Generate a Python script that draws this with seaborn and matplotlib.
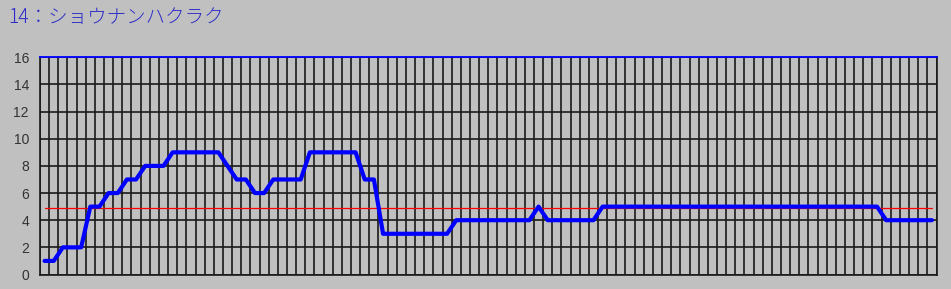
import matplotlib
matplotlib.use("Agg")
import matplotlib.pyplot as plt
import seaborn as sns
import pandas as pd
import numpy as np

# ---- data ----
title = "14：ショウナンハクラク"
values = [1, 1, 2, 2, 2, 5, 5, 6, 6, 7, 7, 8, 8, 8,
          9, 9, 9, 9, 9, 9, 8, 7, 7, 6, 6, 7, 7, 7, 7,
          9, 9, 9, 9, 9, 9, 7, 7,
          3, 3, 3, 3, 3, 3, 3, 3,
          4, 4, 4, 4, 4, 4, 4, 4, 4, 5, 4, 4, 4, 4, 4, 4,
          5, 5, 5, 5, 5, 5, 5, 5, 5, 5, 5, 5, 5, 5, 5, 5,
          5, 5, 5, 5, 5, 5, 5, 5, 5, 5, 5, 5, 5, 5, 5,
          4, 4, 4, 4, 4, 4]
reference_value = 4.9
y_ticks = [0, 2, 4, 6, 8, 10, 12, 14, 16]

n = len(values)
positions = [i + 0.5 for i in range(n)]
df = pd.DataFrame({"x": positions, "y": values})
ref_df = pd.DataFrame({"x": [positions[0], positions[-1]],
                       "y": [reference_value, reference_value]})

bg = "#C0C0C0"
sns.set_style("white")
plt.rcParams["font.family"] = ["Noto Sans CJK JP", "DejaVu Sans"]

fig = plt.figure(figsize=(9.51, 2.89), dpi=100, facecolor=bg)
W, H = 951, 289
left, right, top, bottom = 40, 936.5, 57.3, 274.5
ax = fig.add_axes([left / W, (H - bottom) / H, (right - left) / W, (bottom - top) / H])
ax.set_facecolor(bg)

ax.set_xlim(0, n)
ax.set_ylim(0, 16)
ax.set_axisbelow(True)

# grid
ax.set_xticks(range(0, n + 1))
ax.set_yticks(y_ticks)
ax.grid(True, color="#1a1a1a", linewidth=1.2)
ax.tick_params(axis="x", length=0, labelbottom=False)
ax.tick_params(axis="y", length=5, width=1.2, color="#1a1a1a", pad=3,
               labelsize=10, labelcolor="#333333")
for lbl in ax.get_yticklabels():
    lbl.set_fontfamily(["Liberation Sans", "DejaVu Sans"])

for side in ["left", "right", "bottom"]:
    ax.spines[side].set_color("#1a1a1a")
    ax.spines[side].set_linewidth(1.2)
ax.spines["top"].set_color("#0000FF")
ax.spines["top"].set_linewidth(1.3)

sns.lineplot(data=ref_df, x="x", y="y", ax=ax, color="#FF0000", linewidth=0.9)
sns.lineplot(data=df, x="x", y="y", ax=ax, color="#0000FF", linewidth=3.0)
ax.set_xlabel("")
ax.set_ylabel("")

fig.text(8 / W, 1 - 17 / H, title, color="#3030C8", fontsize=14,
         fontweight="light", ha="left", va="center")

fig.savefig("out.png", dpi=100, facecolor=bg)
